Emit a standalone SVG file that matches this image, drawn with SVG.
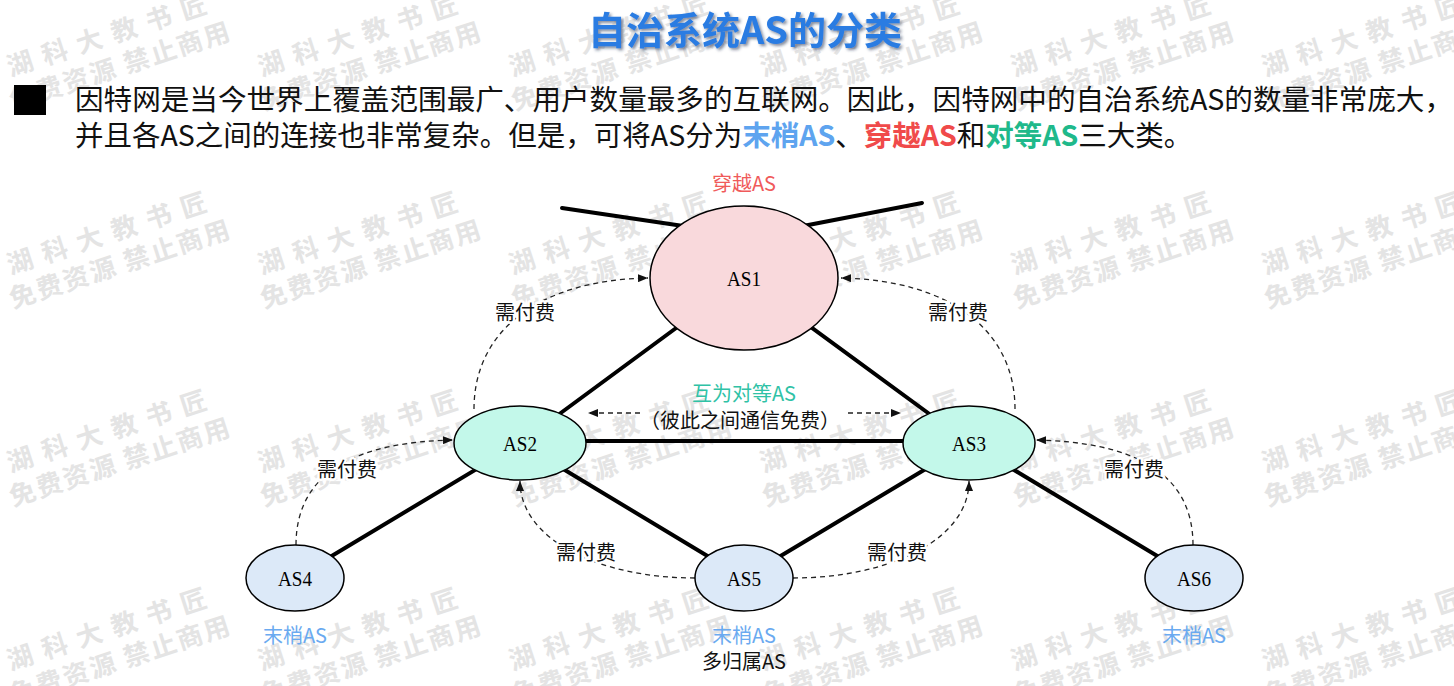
<svg xmlns="http://www.w3.org/2000/svg" xmlns:xlink="http://www.w3.org/1999/xlink" width="1454" height="686" viewBox="0 0 1454 686">
<style>
.wm{font-family:"Noto Sans CJK SC",sans-serif;font-weight:700;font-size:26px;fill:#e4e4e4}
.body{font-family:"Noto Sans CJK SC","Liberation Sans",sans-serif;font-size:28.5px;fill:#111}
.b{font-weight:700}
.thick{stroke:#000;stroke-width:4;fill:none;stroke-linecap:round}
.dash{stroke:#222;stroke-width:1.3;fill:none;stroke-dasharray:5 4}
.node{stroke:#000;stroke-width:1.5}
.nl{font-family:"Liberation Serif",serif;font-size:22px;fill:#000;text-anchor:middle}
.lbl{font-family:"Noto Sans CJK SC",sans-serif;font-size:20px;text-anchor:middle}
.pay{fill:#111;stroke:#fff;stroke-width:5;paint-order:stroke;stroke-linejoin:round}
</style>
<defs>
<marker id="arr" viewBox="0 0 10 8" refX="10" refY="4" markerWidth="10" markerHeight="8" markerUnits="userSpaceOnUse" orient="auto-start-reverse">
<path d="M0,0 L10,4 L0,8 Z" fill="#111"/>
</marker>
<filter id="sh" x="-10%" y="-20%" width="120%" height="150%">
<feDropShadow dx="2" dy="2" stdDeviation="1.5" flood-color="#203050" flood-opacity="0.55"/>
</filter>
<g id="wm">
<text class="wm" x="-13" y="9" letter-spacing="10.5">湖科大教书匠</text>
<text class="wm" x="-21" y="42" letter-spacing="2">免费资源 禁止商用</text>
</g>
</defs>
<rect width="1454" height="686" fill="#fff"/>
<g id="watermark">
<use xlink:href="#wm" transform="translate(20,64) rotate(-18)"/>
<use xlink:href="#wm" transform="translate(271,64) rotate(-18)"/>
<use xlink:href="#wm" transform="translate(522,64) rotate(-18)"/>
<use xlink:href="#wm" transform="translate(773,64) rotate(-18)"/>
<use xlink:href="#wm" transform="translate(1024,64) rotate(-18)"/>
<use xlink:href="#wm" transform="translate(1275,64) rotate(-18)"/>
<use xlink:href="#wm" transform="translate(20,262) rotate(-18)"/>
<use xlink:href="#wm" transform="translate(271,262) rotate(-18)"/>
<use xlink:href="#wm" transform="translate(522,262) rotate(-18)"/>
<use xlink:href="#wm" transform="translate(773,262) rotate(-18)"/>
<use xlink:href="#wm" transform="translate(1024,262) rotate(-18)"/>
<use xlink:href="#wm" transform="translate(1275,262) rotate(-18)"/>
<use xlink:href="#wm" transform="translate(20,460) rotate(-18)"/>
<use xlink:href="#wm" transform="translate(271,460) rotate(-18)"/>
<use xlink:href="#wm" transform="translate(522,460) rotate(-18)"/>
<use xlink:href="#wm" transform="translate(773,460) rotate(-18)"/>
<use xlink:href="#wm" transform="translate(1024,460) rotate(-18)"/>
<use xlink:href="#wm" transform="translate(1275,460) rotate(-18)"/>
<use xlink:href="#wm" transform="translate(20,658) rotate(-18)"/>
<use xlink:href="#wm" transform="translate(271,658) rotate(-18)"/>
<use xlink:href="#wm" transform="translate(522,658) rotate(-18)"/>
<use xlink:href="#wm" transform="translate(773,658) rotate(-18)"/>
<use xlink:href="#wm" transform="translate(1024,658) rotate(-18)"/>
<use xlink:href="#wm" transform="translate(1275,658) rotate(-18)"/>
</g>
<g id="title">
<text x="745" y="44" text-anchor="middle" font-family="'Noto Sans CJK SC',sans-serif" font-weight="700" font-size="38" fill="#2a7be2" filter="url(#sh)">自治系统AS的分类</text>
</g>
<g id="intro">
<rect x="14" y="85" width="32" height="30" fill="#000"/>
<text class="body" x="75" y="110" textLength="1378" lengthAdjust="spacingAndGlyphs">因特网是当今世界上覆盖范围最广、用户数量最多的互联网。因此，因特网中的自治系统AS的数量非常庞大，</text>
<text class="body" x="75" y="146">并且各AS之间的连接也非常复杂。但是，可将AS分为<tspan class="b" fill="#5ea4ef">末梢AS</tspan>、<tspan class="b" fill="#f04a4a">穿越AS</tspan>和<tspan class="b" fill="#1fb98b">对等AS</tspan>三大类。</text>
</g>
<g id="connectors">
<line class="thick" x1="562" y1="208" x2="690" y2="227"/>
<line class="thick" x1="798" y1="227" x2="922" y2="203"/>
<line class="thick" x1="744" y1="278" x2="520" y2="443"/>
<line class="thick" x1="744" y1="278" x2="969" y2="443"/>
<line class="thick" x1="520" y1="441" x2="969" y2="441"/>
<line class="thick" x1="520" y1="443" x2="295" y2="578"/>
<line class="thick" x1="520" y1="443" x2="744" y2="578"/>
<line class="thick" x1="969" y1="443" x2="744" y2="578"/>
<line class="thick" x1="969" y1="443" x2="1194" y2="578"/>
<path class="dash" d="M474,409 C474,330 540,280 648,278" marker-end="url(#arr)"/>
<path class="dash" d="M1015,409 C1015,330 949,280 841,278" marker-end="url(#arr)"/>
<path class="dash" d="M296,545 C296,470 360,442 453,440" marker-end="url(#arr)"/>
<path class="dash" d="M1193,545 C1193,470 1129,442 1036,440" marker-end="url(#arr)"/>
<path class="dash" d="M695,578 C600,578 520,540 520,481" marker-end="url(#arr)"/>
<path class="dash" d="M793,578 C888,578 969,540 969,481" marker-end="url(#arr)"/>
<path class="dash" d="M640,413 L588,413" marker-end="url(#arr)"/>
<path class="dash" d="M848,413 L901,413" marker-end="url(#arr)"/>
</g>
<g id="AS1">
<ellipse class="node" cx="744" cy="278" rx="94" ry="72" fill="#f9d9dc"/>
<text class="nl" x="744" y="286" textLength="34" lengthAdjust="spacingAndGlyphs">AS1</text>
<text class="lbl" x="744" y="191" fill="#f05a5a">穿越AS</text>
</g>
<g id="AS2">
<ellipse class="node" cx="520" cy="443" rx="66" ry="37" fill="#c3f8ea"/>
<text class="nl" x="520" y="451" textLength="34" lengthAdjust="spacingAndGlyphs">AS2</text>
</g>
<g id="AS3">
<ellipse class="node" cx="969" cy="443" rx="66" ry="37" fill="#c3f8ea"/>
<text class="nl" x="969" y="451" textLength="34" lengthAdjust="spacingAndGlyphs">AS3</text>
</g>
<g id="AS4">
<ellipse class="node" cx="295" cy="578" rx="49" ry="33" fill="#dce9f8"/>
<text class="nl" x="295" y="586" textLength="34" lengthAdjust="spacingAndGlyphs">AS4</text>
<text class="lbl" x="295" y="643" fill="#6aaaf0">末梢AS</text>
</g>
<g id="AS5">
<ellipse class="node" cx="744" cy="578" rx="49" ry="33" fill="#dce9f8"/>
<text class="nl" x="744" y="586" textLength="34" lengthAdjust="spacingAndGlyphs">AS5</text>
<text class="lbl" x="744" y="643" fill="#6aaaf0">末梢AS</text>
<text class="lbl" x="744" y="669" fill="#111">多归属AS</text>
</g>
<g id="AS6">
<ellipse class="node" cx="1194" cy="578" rx="49" ry="33" fill="#dce9f8"/>
<text class="nl" x="1194" y="586" textLength="34" lengthAdjust="spacingAndGlyphs">AS6</text>
<text class="lbl" x="1194" y="643" fill="#6aaaf0">末梢AS</text>
</g>
<g id="labels">
<text class="lbl pay" x="525" y="320">需付费</text>
<text class="lbl pay" x="958" y="320">需付费</text>
<text class="lbl pay" x="347" y="477">需付费</text>
<text class="lbl pay" x="1134" y="477">需付费</text>
<text class="lbl pay" x="586" y="560">需付费</text>
<text class="lbl pay" x="897" y="560">需付费</text>
<text class="lbl" x="744" y="401" font-size="19" fill="#2fc2a6">互为对等AS</text>
<text class="lbl" x="740" y="428" font-size="19" fill="#111">（彼此之间通信免费）</text>
</g>
</svg>
